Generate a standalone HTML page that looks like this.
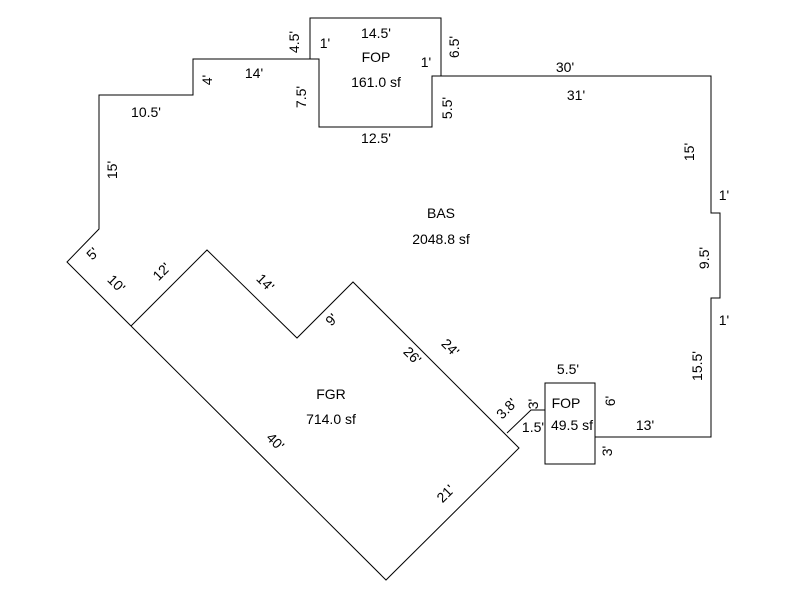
<!DOCTYPE html>
<html><head><meta charset="utf-8"><style>
html,body{margin:0;padding:0;background:#fff;}
svg{display:block;}
text{font-family:"Liberation Sans",sans-serif;font-size:14px;fill:#000;}
</style></head><body>
<svg width="800" height="600" viewBox="0 0 800 600" xmlns="http://www.w3.org/2000/svg">
<g fill="none" stroke="#000" stroke-width="1">
<polyline points="310,59 193,59 193,95 99,95 99,229 67,262 131,326"/>
<polyline points="432,76 711,76 711,213 720,213 720,298 711,298 711,437 595,437"/>
<polyline points="310,59 319,59 319,127 432,127 432,76 441,76 441,18 310,18 310,59"/>
<polyline points="131,326 207,250 297,338 353,282 519,448 386,580 131,326"/>
<polyline points="507,433 531,410 545,410"/>
<rect x="545" y="383" width="50" height="81"/>
</g>
<g text-anchor="middle">
<text x="441" y="218">BAS</text>
<text x="441" y="244">2048.8 sf</text>
<text x="376" y="62">FOP</text>
<text x="376" y="87">161.0 sf</text>
<text x="376" y="38">14.5'</text>
<text x="325" y="48">1'</text>
<text x="426" y="67">1'</text>
<text x="376" y="143">12.5'</text>
<text x="254" y="78">14'</text>
<text x="146" y="117">10.5'</text>
<text x="565" y="72">30'</text>
<text x="576" y="100">31'</text>
<text x="724" y="200">1'</text>
<text x="724" y="325">1'</text>
<text x="568" y="374">5.5'</text>
<text x="566" y="408">FOP</text>
<text x="572" y="430">49.5 sf</text>
<text x="533" y="432">1.5'</text>
<text x="645" y="430">13'</text>
<text x="331" y="399">FGR</text>
<text x="331" y="424">714.0 sf</text>
<text transform="translate(299,42) rotate(-90)">4.5'</text>
<text transform="translate(212,80) rotate(-90)">4'</text>
<text transform="translate(306,97) rotate(-90)">7.5'</text>
<text transform="translate(459,47) rotate(-90)">6.5'</text>
<text transform="translate(452,108) rotate(-90)">5.5'</text>
<text transform="translate(117,170) rotate(-90)">15'</text>
<text transform="translate(694,152) rotate(-90)">15'</text>
<text transform="translate(709,258) rotate(-90)">9.5'</text>
<text transform="translate(702,366) rotate(-90)">15.5'</text>
<text transform="translate(615,401) rotate(-90)">6'</text>
<text transform="translate(612,451) rotate(-90)">3'</text>
<text transform="translate(538,404) rotate(-90)">3'</text>
<text transform="translate(96,257) rotate(-45)">5'</text>
<text transform="translate(113,287) rotate(45)">10'</text>
<text transform="translate(165,275) rotate(-45)">12'</text>
<text transform="translate(262,286) rotate(45)">14'</text>
<text transform="translate(335,323) rotate(-45)">9'</text>
<text transform="translate(409,359) rotate(45)">26'</text>
<text transform="translate(447,351) rotate(45)">24'</text>
<text transform="translate(510,412) rotate(-45)">3.8'</text>
<text transform="translate(272,445) rotate(45)">40'</text>
<text transform="translate(449,497) rotate(-45)">21'</text>
</g>
</svg>
</body></html>
